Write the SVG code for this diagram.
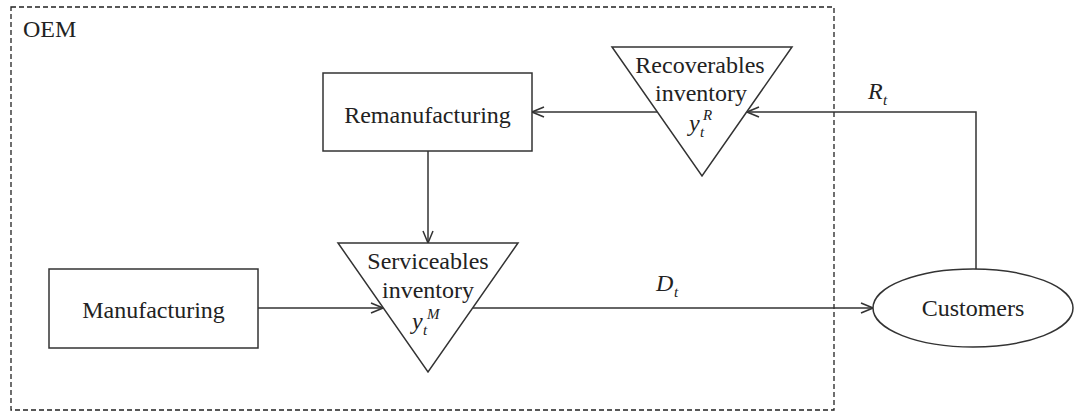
<svg xmlns="http://www.w3.org/2000/svg" width="1075" height="412" viewBox="0 0 1075 412">
<defs>
<style>
.shape{fill:#fff;stroke:#333;stroke-width:1.5}
.conn{fill:none;stroke:#333;stroke-width:1.5}
.t{font-family:"Liberation Serif","Times New Roman",serif;font-size:24px;fill:#222}
.i{font-style:italic}
.s{font-size:15px}
</style>
<marker id="arr" viewBox="0 0 14 12" refX="13" refY="6" markerWidth="14" markerHeight="12" markerUnits="userSpaceOnUse" orient="auto">
<path d="M1,1 L13,6 L1,11" fill="none" stroke="#333" stroke-width="1.5"/>
</marker>
</defs>
<rect width="1075" height="412" fill="#fff"/>
<g id="oem">
<rect x="11" y="7" width="823" height="403" fill="none" stroke="#222" stroke-width="1.3" stroke-dasharray="5,3"/>
<text class="t" x="23" y="37">OEM</text>
</g>
<g id="connectors">
<line class="conn" x1="258" y1="308" x2="383" y2="308" marker-end="url(#arr)"/>
<line class="conn" x1="428" y1="151" x2="428" y2="243" marker-end="url(#arr)"/>
<line class="conn" x1="657" y1="112" x2="532" y2="112" marker-end="url(#arr)"/>
<polyline class="conn" points="976,269 976,112 747,112" marker-end="url(#arr)"/>
<line class="conn" x1="473" y1="308" x2="873" y2="308" marker-end="url(#arr)"/>
<text class="t i" x="656" y="291">D<tspan class="s" x="674" y="297">t</tspan></text>
<text class="t i" x="868" y="99">R<tspan class="s" x="883" y="105">t</tspan></text>
</g>
<g id="manufacturing">
<rect class="shape" x="49" y="269" width="209" height="79"/>
<text class="t" x="153.5" y="318" text-anchor="middle">Manufacturing</text>
</g>
<g id="remanufacturing">
<rect class="shape" x="323" y="73" width="209" height="78"/>
<text class="t" x="427.5" y="123" text-anchor="middle">Remanufacturing</text>
</g>
<g id="recoverables">
<polygon class="shape" points="612,47 792,47 702,176"/>
<text class="t" x="700" y="73" text-anchor="middle">Recoverables</text>
<text class="t" x="701" y="101" text-anchor="middle">inventory</text>
<text class="t i" x="689" y="131">y<tspan class="s" x="700" y="137">t</tspan><tspan class="s" x="703" y="120">R</tspan></text>
</g>
<g id="serviceables">
<polygon class="shape" points="338,243 518,243 428,372"/>
<text class="t" x="428" y="269" text-anchor="middle">Serviceables</text>
<text class="t" x="428" y="298" text-anchor="middle">inventory</text>
<text class="t i" x="412" y="329">y<tspan class="s" x="423" y="335">t</tspan><tspan class="s" x="427" y="319">M</tspan></text>
</g>
<g id="customers">
<ellipse class="shape" cx="973" cy="308" rx="100" ry="39"/>
<text class="t" x="973" y="316" text-anchor="middle">Customers</text>
</g>
</svg>
